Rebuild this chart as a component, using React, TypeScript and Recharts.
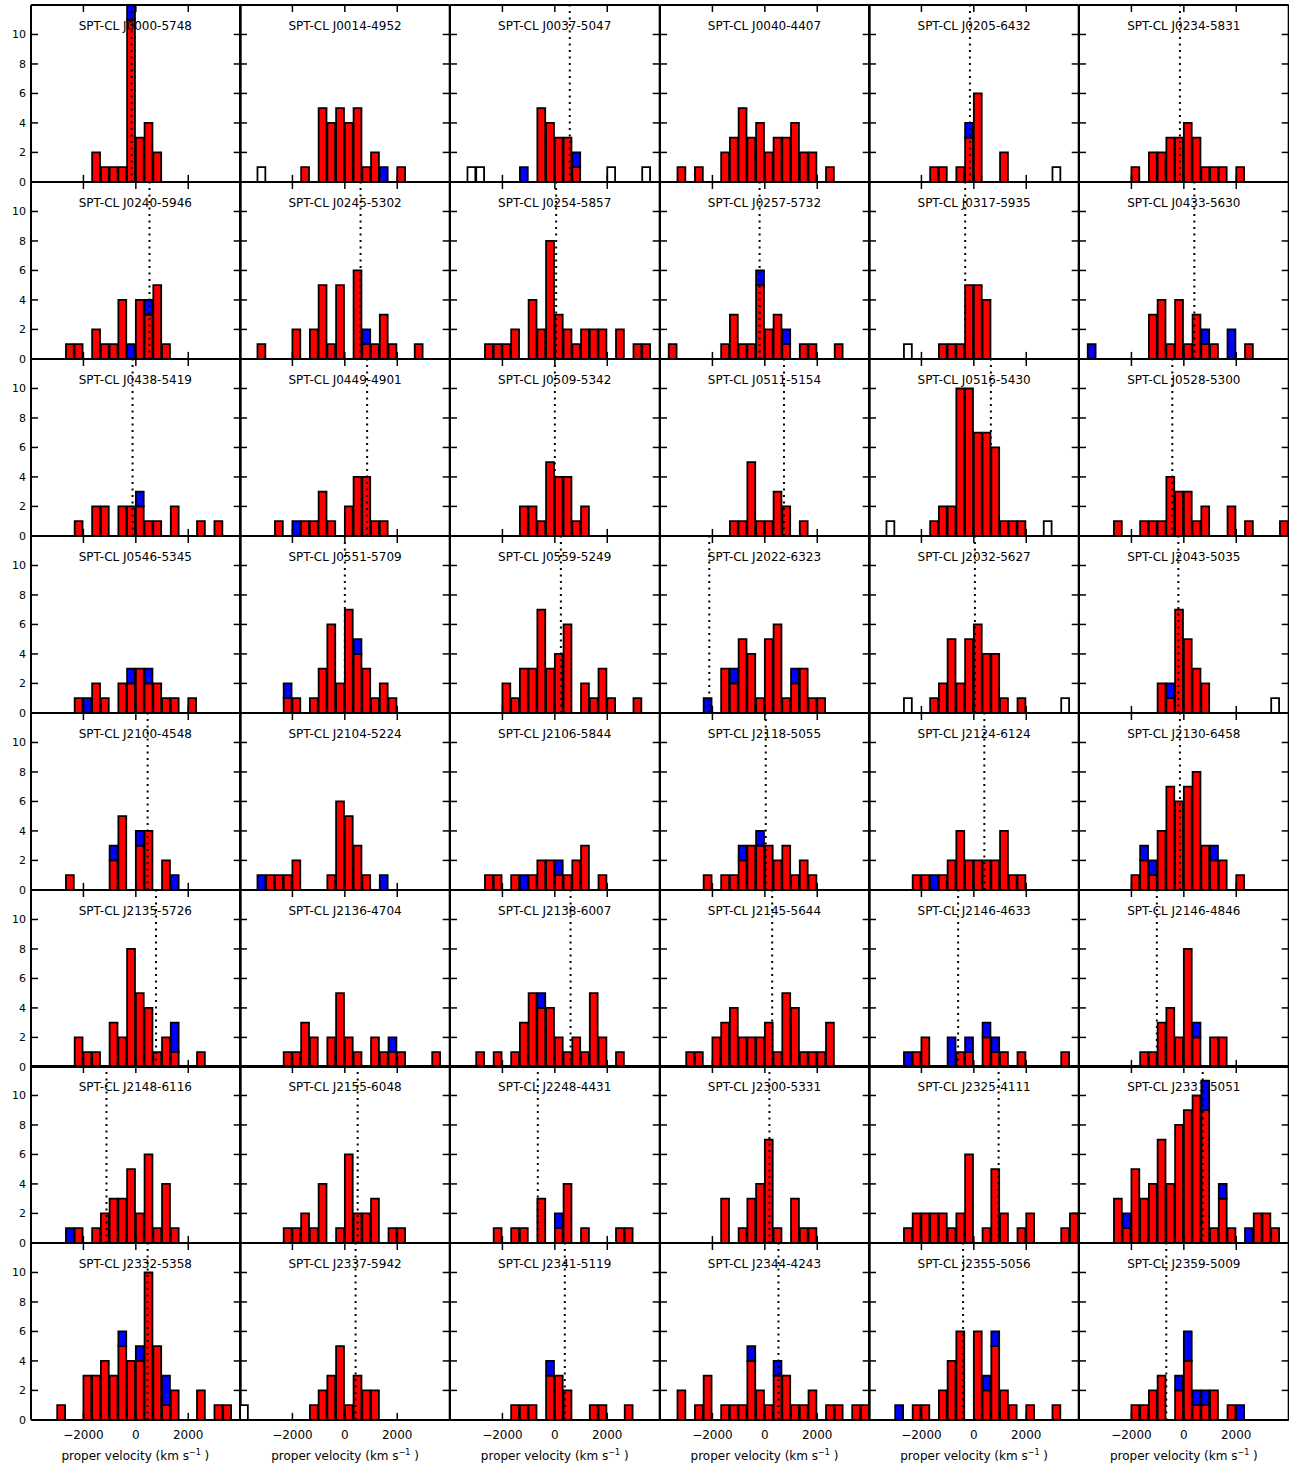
import React from 'react';
import { ComposedChart, Bar, XAxis, YAxis, ReferenceLine } from 'recharts';

// cluster names, row by row (6 per row)
const clusters = [
  'SPT-CL J0000-5748', 'SPT-CL J0014-4952', 'SPT-CL J0037-5047', 'SPT-CL J0040-4407', 'SPT-CL J0205-6432', 'SPT-CL J0234-5831',
  'SPT-CL J0240-5946', 'SPT-CL J0245-5302', 'SPT-CL J0254-5857', 'SPT-CL J0257-5732', 'SPT-CL J0317-5935', 'SPT-CL J0433-5630',
  'SPT-CL J0438-5419', 'SPT-CL J0449-4901', 'SPT-CL J0509-5342', 'SPT-CL J0511-5154', 'SPT-CL J0516-5430', 'SPT-CL J0528-5300',
  'SPT-CL J0546-5345', 'SPT-CL J0551-5709', 'SPT-CL J0559-5249', 'SPT-CL J2022-6323', 'SPT-CL J2032-5627', 'SPT-CL J2043-5035',
  'SPT-CL J2100-4548', 'SPT-CL J2104-5224', 'SPT-CL J2106-5844', 'SPT-CL J2118-5055', 'SPT-CL J2124-6124', 'SPT-CL J2130-6458',
  'SPT-CL J2135-5726', 'SPT-CL J2136-4704', 'SPT-CL J2138-6007', 'SPT-CL J2145-5644', 'SPT-CL J2146-4633', 'SPT-CL J2146-4846',
  'SPT-CL J2148-6116', 'SPT-CL J2155-6048', 'SPT-CL J2248-4431', 'SPT-CL J2300-5331', 'SPT-CL J2325-4111', 'SPT-CL J2331-5051',
  'SPT-CL J2332-5358', 'SPT-CL J2337-5942', 'SPT-CL J2341-5119', 'SPT-CL J2344-4243', 'SPT-CL J2355-5056', 'SPT-CL J2359-5009',
];

// centres of the 24 velocity bins (km/s), -4000..4000
const binCenters = [
  -3833.3, -3500, -3166.7, -2833.3, -2500, -2166.7, -1833.3, -1500, -1166.7, -833.3, -500, -166.7,
  166.7, 500, 833.3, 1166.7, 1500, 1833.3, 2166.7, 2500, 2833.3, 3166.7, 3500, 3833.3,
];

// red (member) counts per bin
const redCounts = [
  [0,0,0,0,0,0,0,2,1,1,1,11,3,4,2,0,0,0,0,0,0,0,0,0],
  [0,0,0,0,0,0,0,1,0,5,4,5,4,5,1,2,0,0,1,0,0,0,0,0],
  [0,0,0,0,0,0,0,0,0,0,5,4,3,3,1,0,0,0,0,0,0,0,0,0],
  [0,0,1,0,1,0,0,2,3,5,3,4,2,3,3,4,2,2,0,1,0,0,0,0],
  [0,0,0,0,0,0,0,1,1,0,1,3,6,0,0,2,0,0,0,0,0,0,0,0],
  [0,0,0,0,0,0,1,0,2,2,3,3,4,3,1,1,1,0,1,0,0,0,0,0],
  [0,0,0,0,1,1,0,2,1,1,4,0,4,3,5,1,0,0,0,0,0,0,0,0],
  [0,0,1,0,0,0,2,0,2,5,1,5,0,6,1,1,3,1,0,0,1,0,0,0],
  [0,0,0,0,1,1,1,2,0,4,2,8,3,2,1,2,2,2,0,2,0,1,1,0],
  [0,1,0,0,0,0,0,1,3,1,1,5,2,3,1,0,1,1,0,0,1,0,0,0],
  [0,0,0,0,0,0,0,0,1,1,1,5,5,4,0,0,0,0,0,0,0,0,0,0],
  [0,0,0,0,0,0,0,0,3,4,1,4,1,3,1,1,0,0,0,1,0,0,0,0],
  [0,0,0,0,0,1,0,2,2,0,2,2,2,1,1,0,2,0,0,1,0,1,0,0],
  [0,0,0,0,1,0,0,1,1,3,1,0,2,4,4,1,1,0,0,0,0,0,0,0],
  [0,0,0,0,0,0,0,0,2,2,1,5,4,4,1,2,0,0,0,0,0,0,0,0],
  [0,0,0,0,0,0,0,0,1,1,5,1,1,3,2,0,1,0,0,0,0,0,0,0],
  [0,0,0,0,0,0,0,1,2,2,10,10,7,7,6,1,1,1,0,0,0,0,0,0],
  [0,0,0,0,1,0,0,1,1,1,4,3,3,1,2,0,0,2,0,1,0,0,0,1],
  [0,0,0,0,0,1,0,2,1,0,2,2,3,2,2,1,1,0,1,0,0,0,0,0],
  [0,0,0,0,0,1,1,0,1,3,6,2,7,4,3,1,2,1,0,0,0,0,0,0],
  [0,0,0,0,0,0,2,1,3,3,7,3,4,6,0,2,1,3,1,0,0,1,0,0],
  [0,0,0,0,0,0,0,3,2,5,4,1,5,6,1,2,3,1,1,0,0,0,0,0],
  [0,0,0,0,0,0,0,1,2,5,2,5,6,4,4,1,0,1,0,0,0,0,0,0],
  [0,0,0,0,0,0,0,0,0,2,1,7,5,3,2,0,0,0,0,0,0,0,0,0],
  [0,0,0,0,1,0,0,0,0,2,5,0,3,4,0,2,0,0,0,0,0,0,0,0],
  [0,0,0,1,1,1,2,0,0,0,1,6,5,3,1,0,0,0,0,0,0,0,0,0],
  [0,0,0,0,1,1,0,1,0,1,2,2,1,1,2,3,0,1,0,0,0,0,0,0],
  [0,0,0,0,0,1,0,1,1,2,3,3,3,2,3,1,2,1,0,0,0,0,0,0],
  [0,0,0,0,0,1,1,0,1,2,4,2,2,2,2,4,1,1,0,0,0,0,0,0],
  [0,0,0,0,0,0,1,2,1,4,7,6,7,8,3,2,2,0,1,0,0,0,0,0],
  [0,0,0,0,0,2,1,1,0,3,2,8,5,4,1,2,1,0,0,1,0,0,0,0],
  [0,0,0,0,0,1,1,3,2,0,2,5,2,1,0,2,1,1,1,0,0,0,1,0],
  [0,0,0,1,0,1,0,1,3,5,4,4,2,1,2,1,5,2,0,1,0,0,0,0],
  [0,0,0,1,1,0,2,3,4,2,2,2,3,1,5,4,1,1,1,3,0,0,0,0],
  [0,0,0,0,0,1,2,0,0,0,1,1,0,2,1,1,0,1,0,0,0,0,1,0],
  [0,0,0,0,0,0,0,1,1,3,4,2,8,2,0,2,2,0,0,0,0,0,0,0],
  [0,0,0,0,0,1,0,1,2,3,3,5,2,6,1,4,1,0,0,0,0,0,0,0],
  [0,0,0,0,0,1,1,2,1,4,0,1,6,2,2,3,0,1,1,0,0,0,0,0],
  [0,0,0,0,0,1,0,1,1,0,3,0,1,4,0,1,0,0,0,1,1,0,0,0],
  [0,0,0,0,0,0,0,3,0,1,3,4,7,1,0,3,1,1,0,0,0,0,0,0],
  [0,0,0,0,1,2,2,2,2,1,2,6,0,1,5,2,0,1,2,0,0,0,1,2],
  [0,0,0,0,3,1,5,3,4,7,4,8,9,10,9,1,3,1,0,0,2,2,1,0],
  [0,0,0,1,0,0,3,3,4,3,5,4,4,10,5,1,2,0,0,2,0,1,1,0],
  [0,0,0,0,0,0,0,0,1,2,3,5,1,3,2,2,0,0,0,0,0,0,0,0],
  [0,0,0,0,0,0,0,1,1,1,0,3,3,2,0,0,1,1,0,0,1,0,0,0],
  [0,0,2,0,1,3,0,1,1,1,4,2,1,3,3,1,1,2,0,1,1,0,1,1],
  [0,0,0,0,0,1,1,0,2,4,6,0,6,2,5,2,1,0,1,0,0,1,0,0],
  [0,0,0,0,0,0,1,1,2,3,0,2,4,1,1,2,0,1,0,0,0,0,0,0],
];

// blue counts, stacked on the red ones: [bin, count]
const blueCounts: number[][][] = [
  [[11,1]], [[16,1]], [[8,1],[14,1]], [], [[11,1]], [],
  [[11,1],[13,1]], [[14,1]], [], [[11,1],[14,1]], [], [[1,1],[14,1],[17,2]],
  [[12,1]], [[6,1]], [], [], [], [],
  [[6,1],[11,1],[13,1]], [[5,1],[13,1]], [], [[5,1],[8,1],[15,1]], [], [[10,1]],
  [[9,1],[12,1],[16,1]], [[2,1],[16,1]], [[8,1],[12,1]], [[9,1],[11,1]], [[7,1]], [[7,1],[8,1],[15,1]],
  [[16,2]], [[17,1]], [[10,1]], [], [[4,1],[9,2],[11,1],[13,1],[14,1]], [[13,1]],
  [[4,1]], [], [[12,1]], [], [], [[5,1],[14,2],[16,1],[19,1]],
  [[10,1],[12,1],[15,2]], [], [[11,1]], [[10,1],[13,1]], [[3,1],[13,1],[14,1]], [[11,1],[12,2],[13,1],[14,1],[18,1]],
];

// open (white) counts: [bin, count]
const whiteCounts: number[][][] = [
  [], [[2,1]], [[2,1],[3,1],[18,1],[22,1]], [], [[21,1]], [],
  [], [], [], [], [[4,1]], [],
  [], [], [], [], [[2,1],[20,1]], [],
  [], [], [], [], [[4,1],[22,1]], [[22,1]],
  [], [], [], [], [], [],
  [], [], [], [], [], [],
  [], [], [], [], [], [],
  [], [[0,1]], [], [], [], [],
];

// dotted line velocity (km/s), null where none is drawn
const meanVelocity: (number | null)[] = [
  -160, null, 570, null, -150, -150,
  520, 600, 50, -200, -330, 400,
  -125, 850, 0, 730, 650, -440,
  null, 0, 230, -2120, 40, -210,
  450, null, null, 35, 400, -150,
  770, null, 600, 280, -600, -1030,
  -1120, 490, -650, 175, 945, 720,
  450, 410, 380, 520, -410, -670,
];

const xTicks = [-2000, 0, 2000];
const yTicks = [0, 2, 4, 6, 8, 10];

const COLS = 6;
const ROWS = 8;
const X0 = 30.5;
const Y0 = 5;
const PW = 209.7;
const PH = 176.9;
const ML = 34, MR = 4, MT = 4, MB = 48;
const AX = 1; // axes get a 1px band, margins give it back
const TICK = 7;
const BAR_W = PW / binCenters.length;

const fmtV = (v: number) => (v < 0 ? '\u2212' + Math.abs(v) : String(v));

function spread(list: number[][]) {
  const out = binCenters.map(() => 0);
  list.forEach(([b, n]) => { out[b] = n; });
  return out;
}

function panelRows(i: number) {
  const blue = spread(blueCounts[i]);
  const white = spread(whiteCounts[i]);
  return binCenters.map((v, k) => ({ v, red: redCounts[i][k], blue: blue[k], white: white[k] }));
}

const BottomTick = (props: any) => {
  const { x, y, payload, showLabel } = props;
  return (
    <g>
      <line x1={x} y1={y} x2={x} y2={y - TICK} stroke="#000" strokeWidth={1.5} />
      {showLabel && (
        <text x={x} y={y + 19} textAnchor="middle" fontSize={12} fill="#000">{fmtV(payload.value)}</text>
      )}
    </g>
  );
};

const TopTick = (props: any) => {
  const { x, y } = props;
  return <line x1={x} y1={y} x2={x} y2={y + TICK} stroke="#000" strokeWidth={1.5} />;
};

const LeftTick = (props: any) => {
  const { x, y, payload, showLabel } = props;
  return (
    <g>
      <line x1={x} y1={y} x2={x + TICK} y2={y} stroke="#000" strokeWidth={1.5} />
      {showLabel && (
        <text x={x - 5} y={y} dy="0.36em" textAnchor="end" fontSize={11} fill="#000">{payload.value}</text>
      )}
    </g>
  );
};

const RightTick = (props: any) => {
  const { x, y } = props;
  return <line x1={x} y1={y} x2={x - TICK} y2={y} stroke="#000" strokeWidth={1.5} />;
};

const frame = { stroke: '#000', strokeWidth: 2 };

function Panel({ idx }: { idx: number }) {
  const row = Math.floor(idx / COLS);
  const col = idx % COLS;
  const bottomRow = row === ROWS - 1;
  const firstCol = col === 0;
  const left = X0 + col * PW;
  const top = Y0 + row * PH;
  const data = panelRows(idx);
  const mean = meanVelocity[idx];

  return (
    <>
      <div style={{ position: 'absolute', left: left - ML, top: top - MT }}>
        <ComposedChart
          width={PW + ML + MR}
          height={PH + MT + MB}
          data={data}
          margin={{ top: MT - AX, right: MR - AX, bottom: MB - AX, left: ML - AX }}
        >
          <XAxis
            dataKey="v"
            type="number"
            domain={[-4000, 4000]}
            allowDataOverflow
            ticks={xTicks}
            interval={0}
            height={AX}
            tickSize={0}
            tickMargin={0}
            tickLine={false}
            axisLine={frame}
            tick={(p: any) => <BottomTick {...p} showLabel={bottomRow} />}
          />
          <XAxis
            xAxisId="top"
            orientation="top"
            dataKey="v"
            type="number"
            domain={[-4000, 4000]}
            allowDataOverflow
            ticks={xTicks}
            interval={0}
            height={AX}
            tickSize={0}
            tickMargin={0}
            tickLine={false}
            axisLine={frame}
            tick={TopTick}
          />
          <YAxis
            type="number"
            domain={[0, 12]}
            allowDataOverflow
            ticks={yTicks}
            interval={0}
            width={AX}
            tickSize={0}
            tickMargin={0}
            tickLine={false}
            axisLine={frame}
            tick={(p: any) => <LeftTick {...p} showLabel={firstCol} />}
          />
          <YAxis
            yAxisId="right"
            orientation="right"
            type="number"
            domain={[0, 12]}
            allowDataOverflow
            ticks={yTicks}
            interval={0}
            width={AX}
            tickSize={0}
            tickMargin={0}
            tickLine={false}
            axisLine={frame}
            tick={RightTick}
          />
          <Bar dataKey="red" stackId="h" fill="#ff0000" stroke="#000" strokeWidth={1.8} barSize={BAR_W} isAnimationActive={false} />
          <Bar dataKey="blue" stackId="h" fill="#0000ff" stroke="#000" strokeWidth={1.8} barSize={BAR_W} isAnimationActive={false} />
          <Bar dataKey="white" stackId="h" fill="#ffffff" stroke="#000" strokeWidth={1.8} barSize={BAR_W} isAnimationActive={false} />
          {mean !== null && (
            <ReferenceLine x={mean} stroke="#000" strokeWidth={2} strokeDasharray="2 4.5" />
          )}
        </ComposedChart>
      </div>
      <div
        style={{
          position: 'absolute',
          left,
          top: top + 15,
          width: PW,
          textAlign: 'center',
          fontSize: 12,
          lineHeight: '12px',
          whiteSpace: 'nowrap',
        }}
      >
        {clusters[idx]}
      </div>
      {bottomRow && (
        <div
          style={{
            position: 'absolute',
            left,
            top: top + PH + 30,
            width: PW,
            textAlign: 'center',
            fontSize: 12,
            lineHeight: '12px',
            whiteSpace: 'nowrap',
          }}
        >
          proper velocity (km s<span style={{ fontSize: 8, position: 'relative', top: -5 }}>{'\u22121'}</span>{' )'}
        </div>
      )}
    </>
  );
}

export default function App() {
  return (
    <div
      style={{
        position: 'absolute',
        left: 0,
        top: 0,
        width: 1289,
        height: 1467,
        background: '#fff',
        overflow: 'hidden',
        fontFamily: '"DejaVu Sans", sans-serif',
        color: '#000',
      }}
    >
      {clusters.map((_, i) => (
        <Panel key={i} idx={i} />
      ))}
    </div>
  );
}
